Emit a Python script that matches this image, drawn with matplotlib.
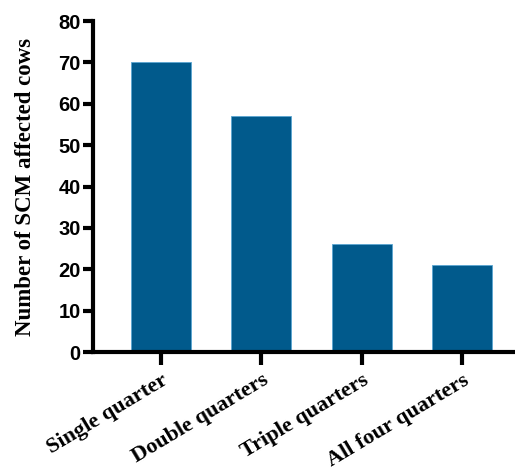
import matplotlib
matplotlib.use("Agg")
import matplotlib.pyplot as plt

categories = ["Single quarter", "Double quarters", "Triple quarters", "All four quarters"]
counts = [70, 57, 26, 21]
yticks = [0, 10, 20, 30, 40, 50, 60, 70, 80]

fig = plt.figure(figsize=(5.15, 4.72), dpi=100)
ax = fig.add_axes([0.1806, 0.2542, 0.8194, 0.7013])

x = range(len(categories))
ax.bar(x, counts, width=0.6, color="#015a8c", edgecolor="#5aa6d2", linewidth=0.6)

ax.set_xlim(-0.68, 3.53)
ax.set_ylim(0, 80)
ax.set_yticks(yticks)
ax.set_xticks(list(x))

for side in ("top", "right"):
    ax.spines[side].set_visible(False)
for side in ("left", "bottom"):
    ax.spines[side].set_linewidth(3)

ax.tick_params(axis="both", direction="out", width=3, length=7, color="black")
ax.tick_params(axis="x", length=9, pad=4)
ax.tick_params(axis="y", pad=2)

for lab in ax.get_yticklabels():
    lab.set_fontfamily("Liberation Sans")
    lab.set_fontweight("bold")
    lab.set_fontsize(14.5)

ax.set_xticklabels(categories, rotation=31, ha="right", rotation_mode="anchor",
                   fontfamily="Liberation Serif", fontweight="bold", fontsize=16)

ax.set_ylabel("Number of SCM affected cows", fontfamily="Liberation Serif",
              fontweight="bold", fontsize=16.5, labelpad=16)

fig.savefig("out.png", dpi=100)
